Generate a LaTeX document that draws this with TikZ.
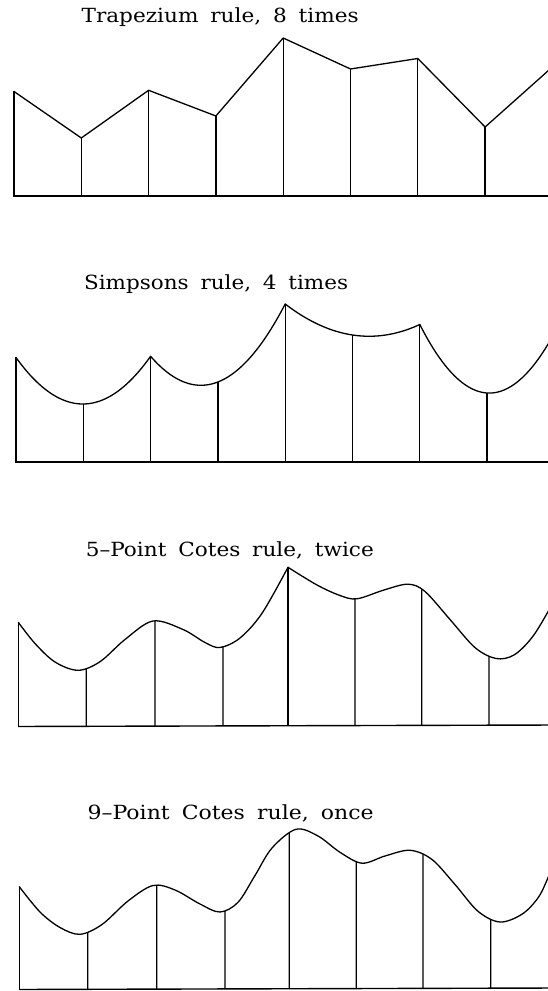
\documentclass[tikz,border=0pt]{standalone}
\usepackage{fontspec}
\setmainfont{DejaVu Serif}
\usepackage{graphicx}
\usetikzlibrary{intersections}
\def\hA{104.5}\def\hB{58}\def\hC{105.7}\def\hD{80}\def\hE{158}
\def\hF{127}\def\hG{137.5}\def\hH{69}\def\hI{129}
\newcommand\ttltext[2]{\resizebox{#1}{\height}{\spaceskip=0.55em\relax #2}}
\newcommand\ordinatelines{%
  \draw[axisline] (-0.01,0) -- (8.3,0);
  \foreach \i/\h in {0/\hA,1/\hB,2/\hC,3/\hD,4/\hE,5/\hF,6/\hG,7/\hH,8/\hI}
    \draw[ordinate] (\i,0) -- (\i,\h);
}
\begin{document}
\begin{tikzpicture}[x=1pt,y=1pt,
  curve/.style={line width=1.3pt, line join=round, line cap=round},
  ordinate/.style={line width=1.3pt},
  axisline/.style={line width=1.4pt},
  titletext/.style={anchor=base west, inner sep=0pt, font=\fontsize{19.5}{22}\selectfont},
  declare function={
    simp(\x,\a,\b,\c)=\a*(\x-1)*(\x-2)/2-\b*\x*(\x-2)+\c*\x*(\x-1)/2;
  }]
\useasboundingbox (0,0) rectangle (548,991);
\clip (0,0) rectangle (548,991);

% titles
\node[titletext] (ttrap) at (81.4,968) {\ttltext{277pt}{Trapezium rule, 8 times}};
\node[titletext] (tsimp) at (83.9,701.5) {\ttltext{264pt}{Simpsons rule, 4 times}};
\node[titletext] (tfive) at (85.6,434.5) {\ttltext{288pt}{5–Point Cotes rule, twice}};
\node[titletext] (tnine) at (87.4,171.5) {\ttltext{286pt}{9–Point Cotes rule, once}};

% panel 1: trapezium
\begin{scope}[shift={(14,795)}, x=67.3pt]
  \ordinatelines
  \draw[curve] (0,\hA) -- (1,\hB) -- (2,\hC) -- (3,\hD) -- (4,\hE) -- (5,\hF) -- (6,\hG) -- (7,\hH) -- (8,\hI);
\end{scope}

% panel 2: Simpson
\begin{scope}[shift={(16,529)}, x=67.3pt]
  \ordinatelines
  \draw[curve] plot[domain=0:2, samples=60] (\x,{simp(\x,\hA,\hB,\hC)});
  \draw[curve] plot[domain=2:4, samples=60] (\x,{simp(\x-2,\hC,\hD,\hE)});
  \draw[curve] plot[domain=4:6, samples=60] (\x,{simp(\x-4,\hE,\hF,\hG)});
  \draw[curve] plot[domain=6:8, samples=60] (\x,{simp(\x-6,\hG,\hH,\hI)});
\end{scope}

% panels 3 and 4 in image coordinates (y downwards)
\begin{scope}[shift={(0,991)}, yscale=-1]
  % panel 3: 5-point Cotes, twice
  \coordinate (c0) at (18.3,622.3);
  \coordinate (c4) at (288,567.3);
  \draw[axisline] (18,726.5) -- (560,725);
  \draw[curve, name path=fiveA] plot[smooth, tension=0.55] coordinates {(c0) (35,643.5) (55,662) (78,670.3) (100,661.7) (125,639.5) (153,621) (183,629.5) (205,642.5) (220,647.5) (240,638) (262,613.3) (c4)};
  \draw[curve, name path=fiveB] plot[smooth, tension=0.55] coordinates {(c4) (317,585) (340,595.5) (357,598.8) (384,590) (408,584.2) (425,591.5) (450,619.5) (475,647.6) (496,658.5) (514,655) (532,637.5) (548,611.7) (558,592)};
  \draw[ordinate] (c0) -- (c0 |- 0,726);
  \draw[ordinate] (c4) -- (c4 |- 0,726);
  \foreach \xx in {86.3,155,223} {
    \path[name path=vfive] (\xx,740) -- (\xx,540);
    \draw[ordinate, name intersections={of=fiveA and vfive, by=ctop}] (\xx,726) -- (ctop);
  }
  \foreach \xx in {355,421.7,489} {
    \path[name path=vfive] (\xx,740) -- (\xx,540);
    \draw[ordinate, name intersections={of=fiveB and vfive, by=ctop}] (\xx,725.5) -- (ctop);
  }

  % panel 4: 9-point Cotes, once
  \coordinate (d0) at (19.3,886.7);
  \draw[axisline] (19,989.5) -- (560,988);
  \draw[curve, name path=nine] plot[smooth, tension=0.55] coordinates {(d0) (40,912) (60,927.5) (80,934.3) (102,924.5) (128,901) (153,885.5) (175,890) (200,904) (220,912) (238,902.3) (255,875.5) (272,848) (296,829.3) (318,836) (340,852.3) (362,863.2) (385,856) (410,850.3) (432,859.5) (455,884.5) (478,911.3) (500,922) (522,914.2) (538,897.9) (548,877.7) (556,856)};
  \draw[ordinate] (d0) -- (d0 |- 0,989);
  \foreach \xx in {87.7,156.7,225,289.3,356.3,423,490.7} {
    \path[name path=vnine] (\xx,1000) -- (\xx,800);
    \draw[ordinate, name intersections={of=nine and vnine, by=dtop}] (\xx,989) -- (dtop);
  }
\end{scope}
\end{tikzpicture}
\end{document}
